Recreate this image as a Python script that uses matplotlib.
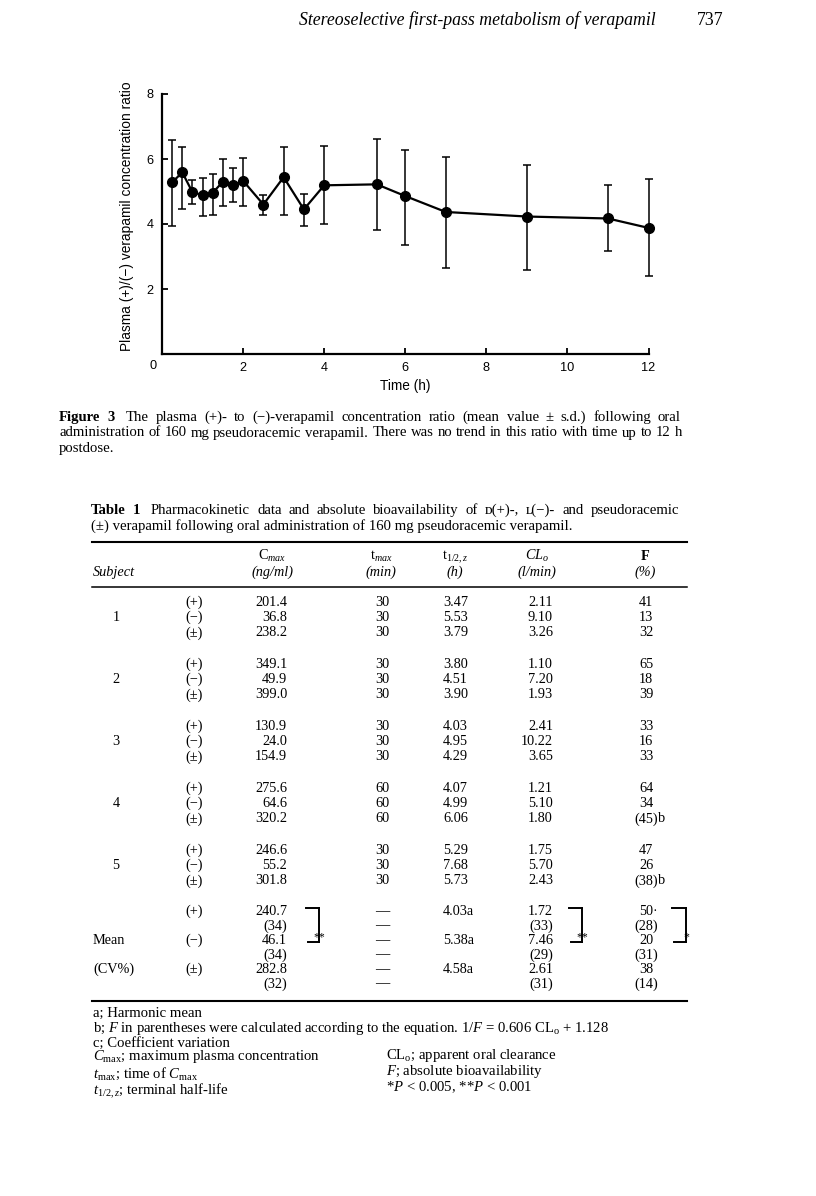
# Figure 3 + Table 1 page: verapamil (+)/(-) ratio over time
import matplotlib
matplotlib.use('Agg')
import matplotlib.pyplot as plt
from matplotlib.lines import Line2D

SANS = ['Liberation Sans', 'DejaVu Sans']
SERIF = ['Liberation Serif', 'DejaVu Serif']
plt.rcParams['font.family'] = SANS
plt.rcParams['mathtext.fontset'] = 'custom'
plt.rcParams['mathtext.rm'] = 'Liberation Serif'
plt.rcParams['mathtext.it'] = 'Liberation Serif:italic'
plt.rcParams['mathtext.bf'] = 'Liberation Serif:bold'

# ---- chart data ----
time_h = [0.25, 0.5, 0.75, 1.0, 1.25, 1.5, 1.75, 2.0, 2.5, 3.0, 3.5, 4.0, 5.3, 6.0, 7.0, 9.0, 11.0, 12.0]
ratio_mean = [5.28, 5.59, 4.98, 4.89, 4.96, 5.30, 5.19, 5.33, 4.60, 5.44, 4.45, 5.19, 5.22, 4.86, 4.37, 4.23, 4.17, 3.88]
ratio_high = [6.58, 6.38, 5.35, 5.43, 5.55, 6.00, 5.71, 6.04, 4.90, 6.38, 4.91, 6.40, 6.62, 6.29, 6.06, 5.83, 5.20, 5.40]
ratio_low = [3.94, 4.46, 4.63, 4.26, 4.29, 4.55, 4.67, 4.56, 4.29, 4.29, 3.94, 3.99, 3.82, 3.36, 2.66, 2.60, 3.16, 2.39]
x_ticks = [2, 4, 6, 8, 10, 12]
y_ticks = [2, 4, 6, 8]

# ---- table data ----
subjects = ['1', '2', '3', '4', '5']
signs = ['(+)', '(\u2212)', '(\u00b1)']
cmax = [['201.4', '36.8', '238.2'], ['349.1', '49.9', '399.0'], ['130.9', '24.0', '154.9'],
        ['275.6', '64.6', '320.2'], ['246.6', '55.2', '301.8']]
tmax = [['30', '30', '30'], ['30', '30', '30'], ['30', '30', '30'], ['60', '60', '60'], ['30', '30', '30']]
thalf = [['3.47', '5.53', '3.79'], ['3.80', '4.51', '3.90'], ['4.03', '4.95', '4.29'],
         ['4.07', '4.99', '6.06'], ['5.29', '7.68', '5.73']]
clo = [['2.11', '9.10', '3.26'], ['1.10', '7.20', '1.93'], ['2.41', '10.22', '3.65'],
       ['1.21', '5.10', '1.80'], ['1.75', '5.70', '2.43']]
fbio = [['41', '13', '32'], ['65', '18', '39'], ['33', '16', '33'], ['64', '34', '(45)b'], ['47', '26', '(38)b']]

mean_signs = ['(+)', '', '(\u2212)', '', '(\u00b1)', '']
mean_left = ['', '', 'Mean', '', '(CV%)', '']
mean_cmax = ['240.7', '(34)', '46.1', '(34)', '282.8', '(32)']
mean_tmax = ['\u2014'] * 6
mean_thalf = ['4.03a', '', '5.38a', '', '4.58a', '']
mean_clo = ['1.72', '(33)', '7.46', '(29)', '2.61', '(31)']
mean_f = ['50\u00b7', '(28)', '20', '(31)', '38', '(14)']

W, H = 816, 1196
fig = plt.figure(figsize=(W / 100, H / 100), dpi=100)
fig.patch.set_facecolor('white')
renderer = fig.canvas.get_renderer()
TS = 10.3   # table text size
CS = 10.6   # caption / title size
NS = 10.6   # footnote size


def fx(x):
    return x / W


def fy(y):
    return 1 - y / H


def put(x, y, s, size=TS, **kw):
    kw.setdefault('family', SERIF)
    kw.setdefault('va', 'baseline')
    return fig.text(fx(x), fy(y), s, fontsize=size, **kw)


def words(s, extra=0, **kw):
    out = []
    for i, w in enumerate(s.split()):
        out.append((w, kw, extra if i == 0 else 0))
    return out


def put_just(x0, x1, y, items, size=CS):
    # justified line: spread the words between x0 and x1
    texts = [put(x0, y, w, size=size, **kw) for w, kw, _ in items]
    widths = [t.get_window_extent(renderer).width for t in texts]
    extras = sum(e for _, _, e in items)
    gap = (x1 - x0 - sum(widths) - extras) / (len(items) - 1)
    x = x0
    for t, wd, (_, _, e) in zip(texts, widths, items):
        x += e
        t.set_x(fx(x))
        x += wd + gap


def hline(x0, x1, y, lw=1.0):
    fig.add_artist(Line2D([fx(x0), fx(x1)], [fy(y), fy(y)], transform=fig.transFigure,
                          color='black', lw=lw))


def vline(x, y0, y1, lw=1.0):
    fig.add_artist(Line2D([fx(x), fx(x)], [fy(y0), fy(y1)], transform=fig.transFigure,
                          color='black', lw=lw))


# ---- running header ----
put(656, 25, 'Stereoselective first-pass metabolism of verapamil', size=12.8, style='italic', ha='right')
put(724, 25, '737', size=12.8, ha='right')

# ---- chart ----
ax = fig.add_axes([162 / W, 1 - 354 / H, 486.5 / W, 260 / H])
yerr = [[m - lo for m, lo in zip(ratio_mean, ratio_low)],
        [hi - m for m, hi in zip(ratio_mean, ratio_high)]]
ax.errorbar(time_h, ratio_mean, yerr=yerr, fmt='-o', color='black', lw=1.6, ms=7,
            capsize=3, elinewidth=1.1, capthick=1.1)
for art in ax.get_children():
    art.set_clip_on(False)
ax.set_xlim(0, 12)
ax.set_ylim(0, 8)
ax.spines[['top', 'right']].set_visible(False)
ax.spines[['left', 'bottom']].set_linewidth(1.6)
ax.set_xticks(x_ticks)
ax.set_yticks(y_ticks)
ax.tick_params(direction='in', length=4, width=1.3, labelsize=9.2, pad=6)
ax.text(-0.22, -0.37, '0', ha='center', va='center', fontsize=9.2)
ax.patch.set_alpha(0)
fig.text(fx(127), fy(216), 'Plasma (+)/(\u2212) verapamil concentration ratio', rotation=90,
         ha='center', va='center', fontsize=9.9)
fig.text(fx(405), fy(386), 'Time (h)', ha='center', va='center', fontsize=9.8)

# ---- caption ----
put_just(59, 681, 421, words('Figure 3', weight='bold') +
         words('The plasma (+)- to (\u2212)-verapamil concentration ratio (mean value \u00b1 s.d.) following oral',
               extra=4))
put_just(59, 682, 436.5, words('administration of 160 mg pseudoracemic verapamil. There was no trend in this '
                               'ratio with time up to 12 h'))
put(59, 452, 'postdose.', size=CS)

# ---- table title ----
put_just(91, 679, 514, words('Table 1', weight='bold') +
         words('Pharmacokinetic data and absolute bioavailability of \u1d05(+)-, \u029f(\u2212)- and pseudoracemic',
               extra=4))
put(91, 530, '(\u00b1) verapamil following oral administration of 160 mg pseudoracemic verapamil.', size=CS)

# ---- table rules ----
hline(92, 687, 541.5, lw=1.5)
hline(92, 687, 586.5, lw=1.1)
hline(92, 687, 1001, lw=1.5)

# ---- table header ----
col_cmax, col_tmax, col_thalf, col_clo, col_f = 287, 382, 443, 553, 646
h1, h2 = 560, 576
put(93, h2, 'Subject', style='italic')
put(272, h1, r'C$_{\mathit{max}}$', ha='center')
put(272, h2, '(ng/ml)', style='italic', ha='center')
put(381, h1, r't$_{\mathit{max}}$', ha='center')
put(381, h2, '(min)', style='italic', ha='center')
put(455, h1, r't$_{\mathit{1/2,z}}$', ha='center')
put(455, h2, '(h)', style='italic', ha='center')
put(537, h1, r'$\mathit{CL_o}$', ha='center')
put(537, h2, '(l/min)', style='italic', ha='center')
put(645, h1, 'F', weight='bold', ha='center')
put(645, h2, '(%)', style='italic', ha='center')


def f_cell(y, s):
    # centre the number, let a trailing note hang to the right
    if s[-1] in 'b\u00b7':
        t = put(col_f, y, s[:-1], ha='center')
        w = t.get_window_extent(renderer).width
        put(col_f + w / 2, y, s[-1])
    else:
        put(col_f, y, s, ha='center')


# ---- subject rows ----
for i, subj in enumerate(subjects):
    y0 = 605.5 + 62 * i
    put(116, y0 + 15.5, subj, ha='center')
    for j in range(3):
        y = y0 + 15.5 * j
        put(194, y, signs[j], ha='center')
        put(col_cmax, y, cmax[i][j], ha='right')
        put(col_tmax, y, tmax[i][j], ha='center')
        put(col_thalf, y, thalf[i][j], ha='left')
        put(col_clo, y, clo[i][j], ha='right')
        f_cell(y, fbio[i][j])

# ---- mean block ----
for k in range(6):
    y = 915 + 14.5 * k
    put(93, y, mean_left[k])
    put(194, y, mean_signs[k], ha='center')
    put(col_cmax, y, mean_cmax[k], ha='right')
    put(col_tmax, y, mean_tmax[k], ha='center')
    put(col_thalf, y, mean_thalf[k], ha='left')
    put(col_clo, y, mean_clo[k], ha='right')
    f_cell(y, mean_f[k])

# significance brackets
for x0, x1, stars in [(306, 319, '**'), (569, 582, '**'), (672, 686, '*')]:
    hline(x0, x1, 908, lw=1.4)
    vline(x1, 908, 942, lw=1.4)
    hline(x0 + 2, x1, 942, lw=1.4)
    put(x1, 940, stars, size=8.5, ha='center')

# ---- footnotes ----
put(93, 1016.5, 'a; Harmonic mean', size=NS)
put(93, 1032, r'b; $F$ in parentheses were calculated according to the equation. 1/$F$ = 0.606 CL$_\mathrm{o}$ + 1.128',
    size=NS)
put(93, 1046.5, 'c; Coefficient variation', size=NS)
put(93, 1060, r'$C_\mathrm{max}$; maximum plasma concentration', size=NS)
put(93, 1077.5, r'$t_\mathrm{max}$; time of $C_\mathrm{max}$', size=NS)
put(93, 1095, r'$t_{1/2,z}$; terminal half-life', size=NS)
put(386, 1059, r'CL$_\mathrm{o}$; apparent oral clearance', size=NS)
put(386, 1075, r'$F$; absolute bioavailability', size=NS)
put(386, 1091, r'*$P$ < 0.005, **$P$ < 0.001', size=NS)

fig.savefig('out.png', dpi=100)
